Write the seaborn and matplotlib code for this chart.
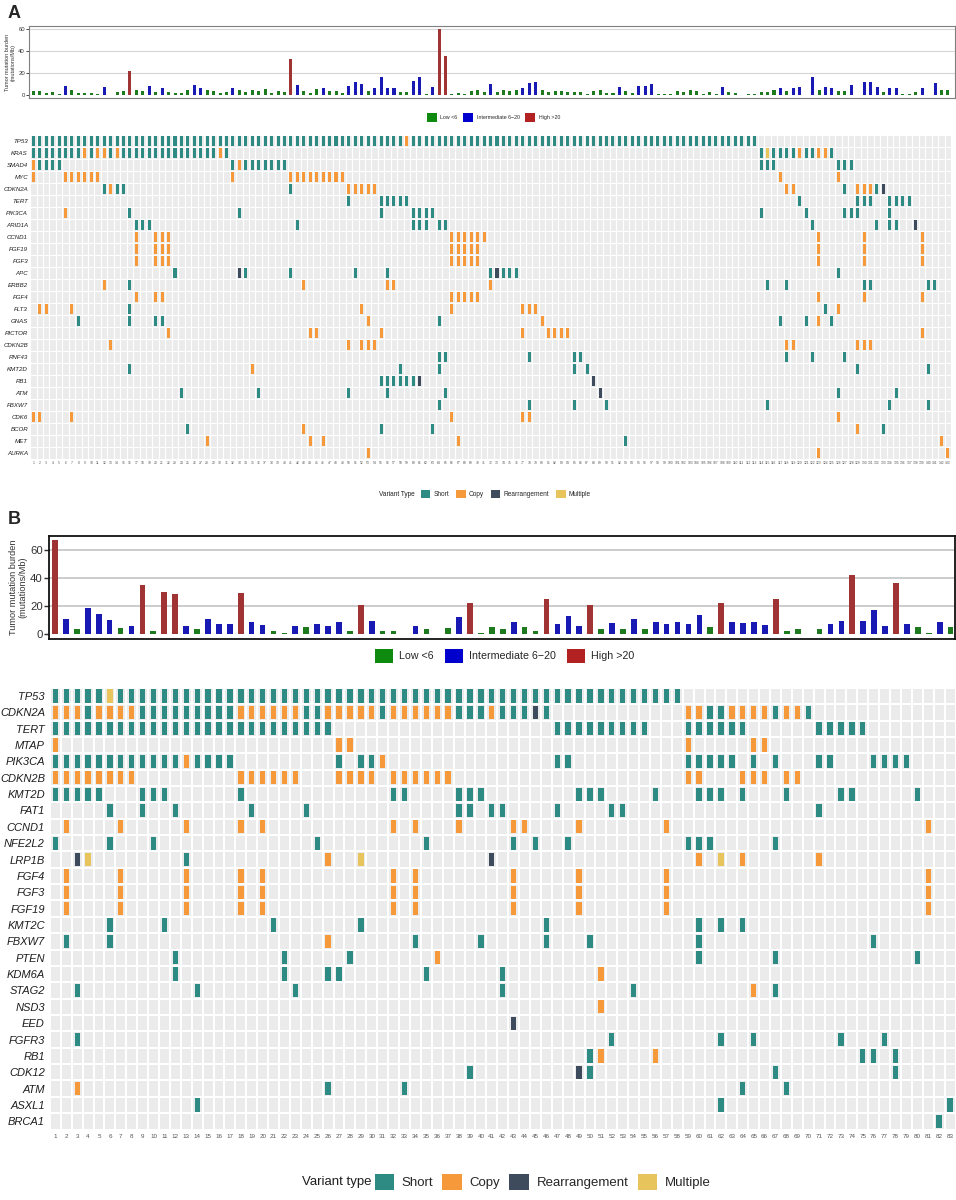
import numpy as np
import pandas as pd
import matplotlib
matplotlib.use("Agg")
import matplotlib.pyplot as plt
import seaborn as sns
from matplotlib.patches import Patch

sns.set_theme(style="white")
plt.rcParams['font.family'] = ['Liberation Sans', 'DejaVu Sans']

# ---------------- colours ----------------
TMB_COLORS = {"Low <6": "#0E8A0E", "Intermediate 6\u221220": "#0000CC", "High >20": "#B22222"}
VAR_COLORS = {"Short": "#2E8B84", "Copy": "#F5993A", "Rearrangement": "#3E4B5C", "Multiple": "#E8C55C"}

# ---------------- panel A data ----------------
a_tmb = [4, 3.7, 2, 2.7, 1, 8, 5, 2, 2, 2,
         1, 7, 0.3, 2.7, 3.7, 22, 4.5, 3.7, 8, 2.7,
         6.4, 2.7, 2, 2, 4.5, 8.8, 6.4, 4.5, 4, 2,
         2.7, 6, 4.5, 2.7, 4.5, 3.7, 5.2, 2, 3.7, 2.7,
         32.6, 8.8, 3.7, 2, 5.5, 6.4, 4, 3.7, 2, 8,
         12, 10, 3.7, 6, 16, 6.4, 6.4, 2.7, 2.7, 13,
         16, 1, 7, 60, 35.7, 0.6, 2, 1, 3.7, 5,
         2.7, 9.7, 2.7, 5, 4, 5, 6, 10.7, 12, 5,
         3, 4, 3.7, 3, 3, 3, 1, 4, 5, 1.5,
         1.5, 7.6, 3.7, 1.5, 8.2, 8.2, 9.7, 0.6, 0.6, 0.6,
         3.7, 2.7, 4.5, 4, 1, 3, 1, 7.6, 3, 1.5,
         0.3, 0.6, 0.6, 2.7, 3, 4.5, 6, 3.7, 6.4, 7.6,
         0.3, 16, 4.5, 7.6, 6, 4, 4, 8.8, 0.3, 12,
         11.5, 7, 3, 6.4, 6.4, 0.6, 0.6, 2.7, 6, 0.3,
         11, 5, 4.5]

a_genes = ["TP53", "KRAS", "SMAD4", "MYC", "CDKN2A", "TERT", "PIK3CA", "ARID1A",
           "CCND1", "FGF19", "FGF3", "APC", "ERBB2", "FGF4", "FLT3", "GNAS",
           "RICTOR", "CDKN2B", "RNF43", "KMT2D", "RB1", "ATM", "FBXW7", "CDK6",
           "BCOR", "MET", "AURKA"]

a_short = {
    "TP53": "1-58,60-113",
    "KRAS": "1-8,10,13,15-29,31,114,116-119,121,122,125",
    "SMAD4": "2-5,32,34-40,114-116,126-128",
    "CDKN2A": "12,14,15,41,127,132",
    "TERT": "50,55-59,120,129-131,134-137",
    "PIK3CA": "16,33,55,60-63,114,121,127-129,134",
    "ARID1A": "17-19,42,60-62,64,65,122,132,134,135",
    "APC": "23,34,41,51,56,72,74-76,126",
    "ERBB2": "16,115,118,130,131,140,141",
    "FLT3": "16,124",
    "GNAS": "8,16,20,21,64,117,121,125",
    "RNF43": "64,65,78,85,86,118,122,127",
    "KMT2D": "16,58,64,85,87,129,140",
    "RB1": "55-60",
    "ATM": "24,36,50,56,65,126,135",
    "FBXW7": "64,78,85,90,115,134,140",
    "BCOR": "25,55,63,133",
    "MET": "93",
}
a_copy = {
    "TP53": "59",
    "KRAS": "9,11,12,14,30,120,123,124",
    "SMAD4": "1,33",
    "MYC": "1,6-11,32,41-49,117,126",
    "CDKN2A": "13,50-54,118,119,129-131",
    "PIK3CA": "6",
    "CCND1": "17,20-22,66-71,123,130,139",
    "FGF19": "17,20-22,66-70,123,130,139",
    "FGF3": "17,20-22,66-70,123,130,139",
    "ERBB2": "12,43,56,57,72",
    "FGF4": "17,20,21,66-70,123,130,139",
    "FLT3": "2,3,7,52,66,77-79,126",
    "GNAS": "53,80,123",
    "RICTOR": "22,44,45,55,77,81-84,139",
    "CDKN2B": "13,50,52-54,118,119,129-131",
    "KMT2D": "35",
    "CDK6": "1,2,7,66,77,78,126",
    "BCOR": "43,129",
    "MET": "28,44,46,67,142",
    "AURKA": "53,123,143",
}
a_rearr = {"CDKN2A": "133", "ARID1A": "138", "APC": "33,73", "RB1": "61,88", "ATM": "89"}
a_multi = {"KRAS": "115"}

# ---------------- panel B data ----------------
b_tmb = [67.6, 11, 4, 19, 14.8, 10, 4.8, 6, 35.5, 2.4,
         30.2, 28.6, 6, 4, 11, 7.6, 7.6, 29.3, 8.6, 6.4,
         2.4, 1, 6, 5, 7.6, 6, 8.6, 2.4, 21, 9.5,
         2.4, 2.6, 0.3, 6, 3.6, 0.3, 4.8, 12, 22, 1,
         5, 4, 8.8, 5, 2.4, 25.5, 7, 13.3, 6, 21,
         3.6, 7.9, 3.6, 11.2, 3.6, 8.8, 7, 8.6, 7.6, 14,
         5, 22.6, 8.8, 7.9, 8.8, 6.4, 25.5, 2.4, 3.6, 0.3,
         3.6, 7, 9.8, 42, 9.8, 17.6, 6, 36.4, 7, 5,
         0.7, 8.8, 5]

b_genes = ["TP53", "CDKN2A", "TERT", "MTAP", "PIK3CA", "CDKN2B", "KMT2D", "FAT1",
           "CCND1", "NFE2L2", "LRP1B", "FGF4", "FGF3", "FGF19", "KMT2C", "FBXW7",
           "PTEN", "KDM6A", "STAG2", "NSD3", "EED", "FGFR3", "RB1", "CDK12",
           "ATM", "ASXL1", "BRCA1"]

b_short = {
    "TP53": "1-5,7-58",
    "CDKN2A": "4,9-17,24,25,31,38-40,42-44,46,61,62,67,70",
    "TERT": "1-26,47-55,59-64,71-75",
    "PIK3CA": "1-12,14-17,27,29,30,47,48,59-63,65,67,71,72,76-79",
    "KMT2D": "1-5,9-11,18,32,33,38-40,49-51,56,60-62,64,68,73,74,80",
    "FAT1": "6,9,12,19,24,38,39,41,42,47,52,53,71",
    "NFE2L2": "1,6,10,25,35,43,45,48,59-61,67",
    "LRP1B": "13",
    "KMT2C": "6,11,21,29,46,60,62,64",
    "FBXW7": "2,6,34,40,46,50,60,76",
    "PTEN": "12,22,28,60,67,80",
    "KDM6A": "12,22,26,27,35,42",
    "STAG2": "3,14,23,42,54,67",
    "FGFR3": "3,52,62,65,73,77",
    "RB1": "50,75,76,78",
    "CDK12": "39,50,67,78",
    "ATM": "26,33,64,68",
    "ASXL1": "14,62,83",
    "BRCA1": "82",
}
b_copy = {
    "CDKN2A": "1-3,5-8,18-23,26-30,32-37,41,59,60,63-66,68,69",
    "MTAP": "1,27,28,59,65,66",
    "PIK3CA": "13,31",
    "CDKN2B": "1-8,18-23,27-30,32-37,59,60,64-66,68,69",
    "CCND1": "2,7,13,18,20,32,34,38,43,44,49,57,81",
    "LRP1B": "26,60,64,71",
    "FGF4": "2,7,13,18,20,32,34,43,49,57,81",
    "FGF3": "2,7,13,18,20,32,34,43,49,57,81",
    "FGF19": "2,7,13,18,20,32,34,43,49,57,81",
    "FBXW7": "26",
    "PTEN": "36",
    "KDM6A": "51",
    "STAG2": "65",
    "NSD3": "51",
    "RB1": "51,56",
    "ATM": "3",
}
b_rearr = {"CDKN2A": "45", "LRP1B": "3,41", "EED": "43", "CDK12": "49"}
b_multi = {"TP53": "6", "LRP1B": "4,29,62"}


# -------------------------------------------------
def parse_cols(spec):
    out = []
    for part in spec.split(","):
        if "-" in part:
            a, b = part.split("-")
            out.extend(range(int(a), int(b) + 1))
        else:
            out.append(int(part))
    return out


def long_table(genes, short, copy, rearr, multi):
    rows = []
    for vtype, table in [("Short", short), ("Copy", copy),
                         ("Rearrangement", rearr), ("Multiple", multi)]:
        for gene, spec in table.items():
            for c in parse_cols(spec):
                rows.append((gene, genes.index(gene), c, vtype))
    return pd.DataFrame(rows, columns=["gene", "row", "sample", "type"])


def draw_tmb(ax, values, xlim, ylim, bar_w, fs_tick, fs_lab, box_col, box_lw, grid_col, grid_lw):
    df = pd.DataFrame({"sample": np.arange(1, len(values) + 1), "tmb": values})
    df["group"] = pd.cut(df["tmb"], [-np.inf, 6, 20, np.inf], right=False,
                         labels=list(TMB_COLORS))
    for g in [20, 40, 60]:
        ax.axhline(g, color=grid_col, lw=grid_lw, zorder=0)
    sns.barplot(data=df, x="sample", y="tmb", hue="group", palette=TMB_COLORS,
                dodge=False, native_scale=True, width=bar_w, errorbar=None,
                legend=False, ax=ax, zorder=2, linewidth=0)
    ax.set_xlim(*xlim)
    ax.set_ylim(*ylim)
    ax.set_xticks([])
    ax.set_xlabel("")
    ax.set_yticks([0, 20, 40, 60])
    ax.tick_params(axis="y", labelsize=fs_tick, length=fs_tick * 0.45, width=box_lw * 0.8,
                   pad=1, colors="#333333", left=True)
    ax.set_ylabel("Tumor mutation burden\n(mutations/Mb)", fontsize=fs_lab, color="#333333",
                  labelpad=2, linespacing=1.05)
    for s in ax.spines.values():
        s.set_visible(True)
        s.set_color(box_col)
        s.set_linewidth(box_lw)


def draw_onco(ax, genes, n, df, bar_w, bar_h, grid_lw, fs_gene, fs_num, gene_pad, num_pad):
    ax.set_facecolor("#EBEBEB")
    for vtype, col in VAR_COLORS.items():
        sub = df[df["type"] == vtype]
        ax.bar(sub["sample"], height=bar_h, bottom=sub["row"] - bar_h / 2, width=bar_w,
               color=col, linewidth=0, zorder=3)
    for k in range(n + 1):
        ax.axvline(k + 0.5, color="white", lw=grid_lw, zorder=2)
    for r in range(len(genes) + 1):
        ax.axhline(r - 0.5, color="white", lw=grid_lw, zorder=2)
    ax.set_xlim(0.5, n + 0.5)
    ax.set_ylim(len(genes) - 0.5, -0.5)
    ax.set_yticks(range(len(genes)))
    ax.set_yticklabels(genes, fontsize=fs_gene, style="italic", color="#1E1E1E")
    ax.set_xticks(range(1, n + 1))
    ax.set_xticklabels([str(i) for i in range(1, n + 1)], fontsize=fs_num, color="#555555")
    ax.tick_params(axis="y", length=0, pad=gene_pad)
    ax.tick_params(axis="x", length=0, pad=num_pad)
    for s in ax.spines.values():
        s.set_visible(False)


def add_legend(fig, handles, labels, x, y, fs, hl, spacing, textpad, title=None, title_x=None):
    fig.legend(handles, labels, loc="center", bbox_to_anchor=(x, y), ncol=len(handles),
               frameon=False, fontsize=fs, handlelength=hl, handleheight=hl,
               columnspacing=spacing, handletextpad=textpad, borderaxespad=0)
    if title:
        fig.text(title_x, y, title, ha="right", va="center", fontsize=fs, color="#1E1E1E")


# -------------------------------------------------
W, H = 956, 1200
fig = plt.figure(figsize=(W / 100, H / 100), dpi=100)


def box(l, t, r, b):
    return [l / W, 1 - b / H, (r - l) / W, (b - t) / H]


# ---------- panel A ----------
fig.text(8 / W, 1 - 14 / H, "A", fontsize=13, fontweight="bold", va="center", ha="left")

ax_a1 = fig.add_axes(box(29, 26, 955, 98.3))
draw_tmb(ax_a1, a_tmb, (0.33, 144.1), (-3.0, 63), 0.47, 4.3, 4.0, "#7F7F7F", 0.8, "#D6D6D6", 0.8)

ax_a2 = fig.add_axes(box(30.1, 134.7, 951, 459.3))
df_a = long_table(a_genes, a_short, a_copy, a_rearr, a_multi)
draw_onco(ax_a2, a_genes, len(a_tmb), df_a, 0.47, 0.83, 0.8, 4.4, 2.4, 1.5, 1.5)

tmb_handles = [Patch(facecolor=c, edgecolor="none") for c in TMB_COLORS.values()]
add_legend(fig, tmb_handles, list(TMB_COLORS), 0.516, 1 - 117.5 / H, 3.8, 2.0, 1.0, 0.6)

var_handles = [Patch(facecolor=c, edgecolor="none") for c in VAR_COLORS.values()]
add_legend(fig, var_handles, list(VAR_COLORS), 0.529, 1 - 494 / H, 4.7, 1.5, 1.0, 0.5,
           title="Variant Type", title_x=415 / W)

# ---------- panel B ----------
fig.text(8 / W, 1 - 519 / H, "B", fontsize=13, fontweight="bold", va="center", ha="left")

ax_b1 = fig.add_axes(box(49.3, 536, 955, 639))
draw_tmb(ax_b1, b_tmb, (0.48, 83.4), (-3.4, 70.2), 0.52, 8.2, 6.6, "#111111", 1.3, "#C4C4C4", 1.2)

ax_b2 = fig.add_axes(box(49.9, 687.8, 955.5, 1129.5))
df_b = long_table(b_genes, b_short, b_copy, b_rearr, b_multi)
draw_onco(ax_b2, b_genes, len(b_tmb), df_b, 0.49, 0.81, 1.5, 8.0, 4.5, 3.6, 3.0)

add_legend(fig, tmb_handles, list(TMB_COLORS), 0.528, 1 - 656 / H, 7.7, 1.7, 1.0, 0.6)
add_legend(fig, var_handles, list(VAR_COLORS), 0.5675, 1 - 1182 / H, 9.5, 1.45, 0.7, 0.6,
           title="Variant type", title_x=372 / W)

fig.savefig("out.png", dpi=100, facecolor="white")
print("saved out.png")
